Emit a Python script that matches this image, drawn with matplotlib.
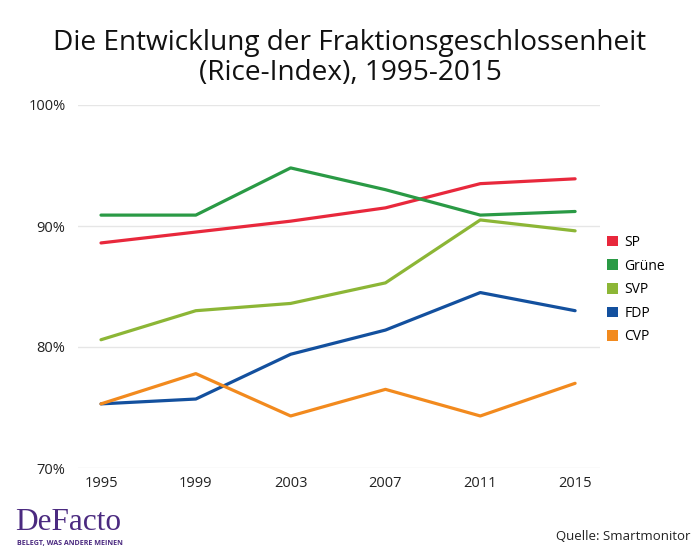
import matplotlib
matplotlib.use("Agg")
import matplotlib.pyplot as plt
from matplotlib.patches import Patch

years = [1995, 1999, 2003, 2007, 2011, 2015]
sp = [88.6, 89.5, 90.4, 91.5, 93.5, 93.9]
gruene = [90.9, 90.9, 94.8, 93.0, 90.9, 91.2]
svp = [80.6, 83.0, 83.6, 85.3, 90.5, 89.6]
fdp = [75.3, 75.7, 79.4, 81.4, 84.5, 83.0]
cvp = [75.3, 77.8, 74.3, 76.5, 74.3, 77.0]
series_names = ["SP", "Grüne", "SVP", "FDP", "CVP"]
series_values = [sp, gruene, svp, fdp, cvp]
colors = ["#e8283c", "#2a9a45", "#8cb636", "#13509e", "#f28a1e"]
yticks = [70, 80, 90, 100]
ytick_labels = ["70%", "80%", "90%", "100%"]

plt.rcParams['font.family'] = ['Open Sans', 'DejaVu Sans']

W, H = 700, 559
fig = plt.figure(figsize=(7, 5.59), dpi=100)
ax = fig.add_axes([78 / W, 1 - 468 / H, (600 - 78) / W, (468 - 105) / H])

for name, vals, c in zip(series_names, series_values, colors):
    ax.plot(years, vals, color=c, lw=2.3, solid_capstyle='round', solid_joinstyle='round', label=name, zorder=3)

ax.set_xlim(1994.03, 2016.05)
ax.set_ylim(70, 100)
ax.set_yticks(yticks)
ax.set_yticklabels(ytick_labels)
ax.set_xticks(years)
ax.set_xticklabels([str(y) for y in years])
for s in ax.spines.values():
    s.set_visible(False)
ax.grid(axis='y', color='#e6e6e6', lw=1, zorder=0)
ax.tick_params(axis='both', length=0, labelsize=10.5, colors='#222222')
ax.tick_params(axis='y', pad=9)
ax.tick_params(axis='x', pad=6)

fig.text(0.5, 1 - 58 / H, "Die Entwicklung der Fraktionsgeschlossenheit\n(Rice-Index), 1995-2015",
         ha='center', va='center', fontsize=20.2, color='#111111', linespacing=1.05)

handles = [Patch(facecolor=c, edgecolor='none') for c in colors]
leg = fig.legend(handles, series_names, loc='upper left', bbox_to_anchor=(607 / W, 1 - 235 / H),
                 frameon=False, fontsize=10, handlelength=0.8, handleheight=0.8,
                 labelspacing=0.62, handletextpad=0.45, borderaxespad=0, borderpad=0)

fig.text(15 / W, 1 - 523 / H, "DeFacto", fontsize=22.5, color='#4b2a80', family=['Liberation Serif', 'DejaVu Serif'],
         ha='left', va='center')
fig.text(17 / W, 1 - 543 / H, "BELEGT, WAS ANDERE MEINEN", fontsize=5.1, color='#4b2a80', ha='left', va='center',
         fontweight='bold')
fig.text(690 / W, 1 - 536 / H, "Quelle: Smartmonitor", fontsize=9.5, color='#222222', ha='right', va='center')

fig.savefig("out.png", dpi=100)
